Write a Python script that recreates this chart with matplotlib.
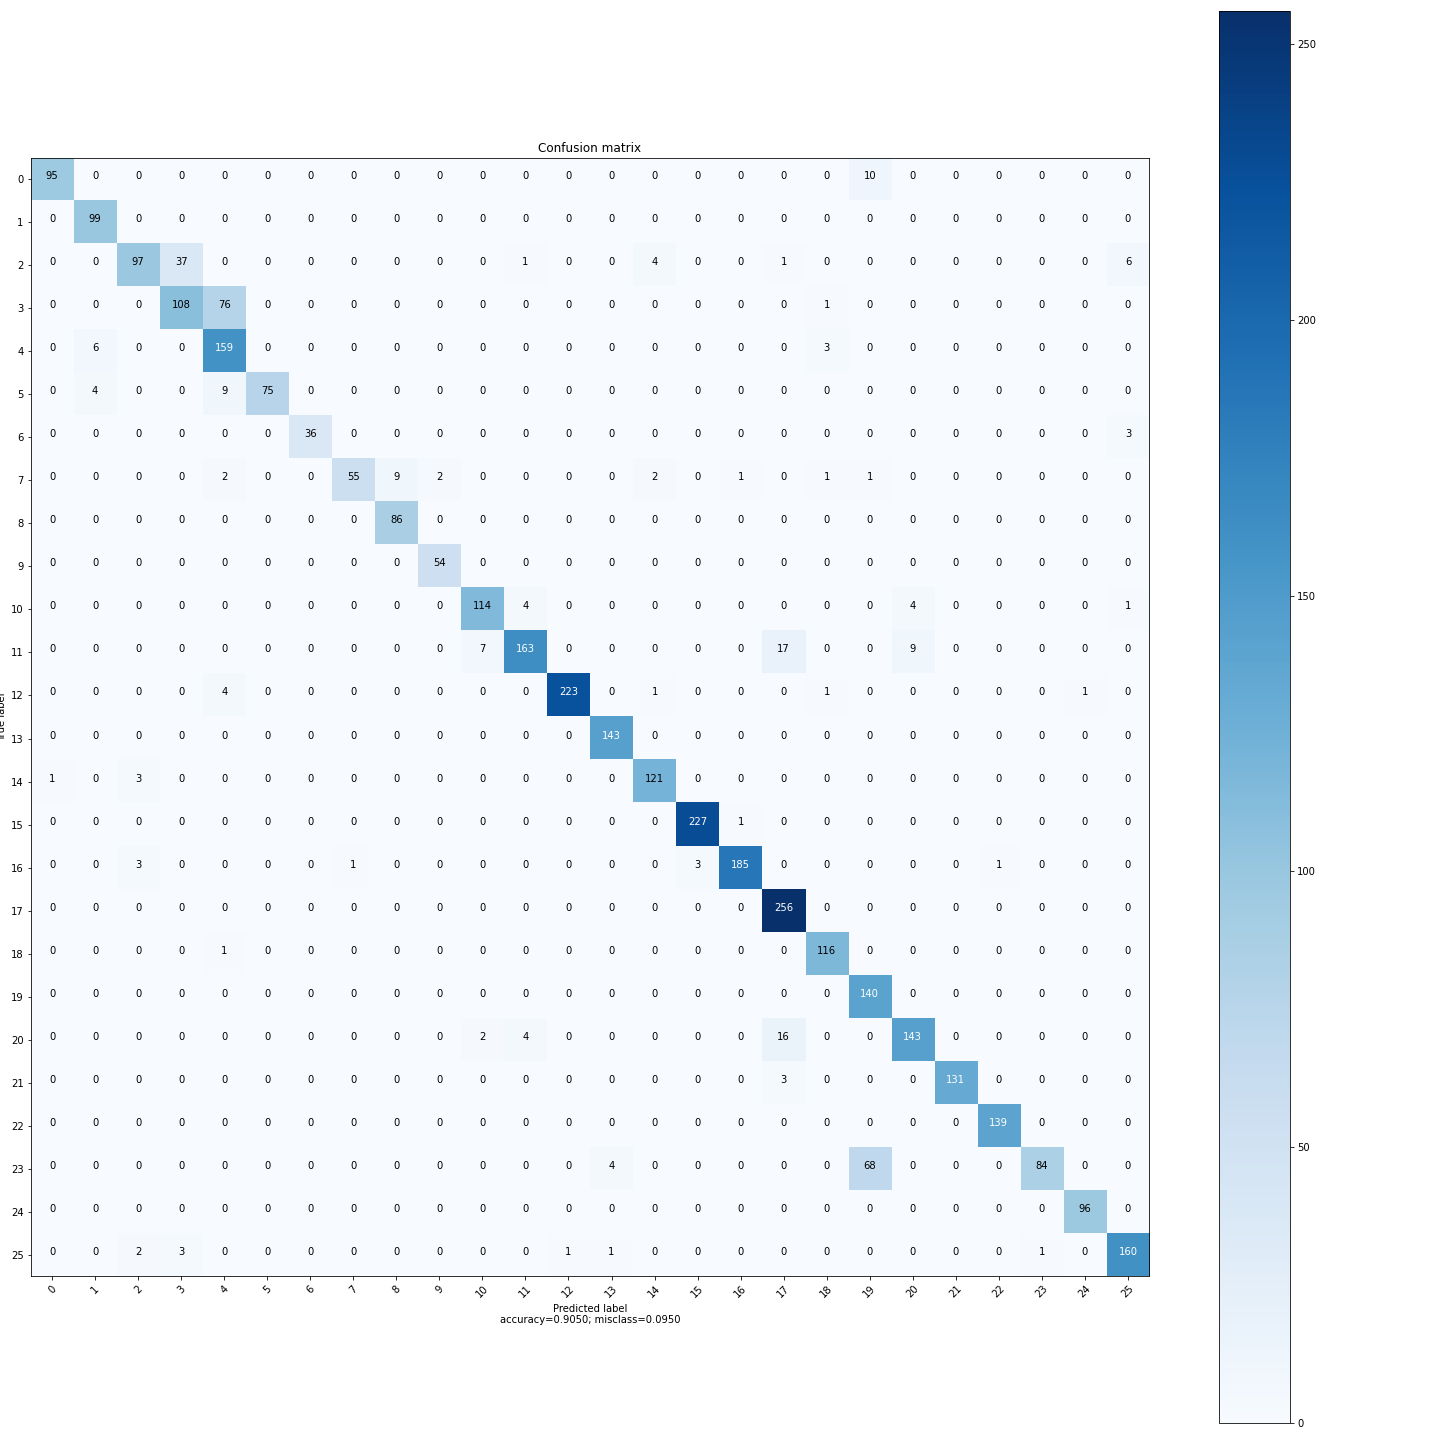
import itertools
import numpy as np
import matplotlib
matplotlib.use("Agg")
import matplotlib.pyplot as plt

n_classes = 26
class_names = [str(i) for i in range(n_classes)]

# 対角成分
diag_values = [95, 99, 97, 108, 159, 75, 36, 55, 86, 54, 114, 163, 223,
               143, 121, 227, 185, 256, 116, 140, 143, 131, 139, 84, 96, 160]

# 対角以外 (行, 列, 値)
off_diag = [
    (0, 19, 10),
    (2, 3, 37), (2, 11, 1), (2, 14, 4), (2, 17, 1), (2, 25, 6),
    (3, 4, 76), (3, 18, 1),
    (4, 1, 6), (4, 18, 3),
    (5, 1, 4), (5, 4, 9),
    (6, 25, 3),
    (7, 4, 2), (7, 8, 9), (7, 9, 2), (7, 14, 2), (7, 16, 1), (7, 18, 1), (7, 19, 1),
    (10, 11, 4), (10, 20, 4), (10, 25, 1),
    (11, 10, 7), (11, 17, 17), (11, 20, 9),
    (12, 4, 4), (12, 14, 1), (12, 18, 1), (12, 24, 1),
    (14, 0, 1), (14, 2, 3),
    (15, 16, 1),
    (16, 2, 3), (16, 7, 1), (16, 15, 3), (16, 22, 1),
    (18, 4, 1),
    (20, 10, 2), (20, 11, 4), (20, 17, 16),
    (21, 17, 3),
    (23, 13, 4), (23, 19, 68),
    (25, 2, 2), (25, 3, 3), (25, 12, 1), (25, 13, 1), (25, 23, 1),
]

cm = np.zeros((n_classes, n_classes), dtype=int)
for i, v in enumerate(diag_values):
    cm[i, i] = v
for r, c, v in off_diag:
    cm[r, c] = v

accuracy = np.trace(cm) / float(np.sum(cm))
misclass = 1 - accuracy

cmap = plt.get_cmap("Blues")

plt.figure(figsize=(20, 20), dpi=72)
plt.imshow(cm, interpolation="nearest", cmap=cmap)
plt.title("Confusion matrix")
plt.colorbar()

tick_marks = np.arange(n_classes)
plt.xticks(tick_marks, class_names, rotation=45)
plt.yticks(tick_marks, class_names)

thresh = cm.max() / 2
for i, j in itertools.product(range(cm.shape[0]), range(cm.shape[1])):
    plt.text(j, i, "{:,}".format(cm[i, j]),
             horizontalalignment="center",
             color="white" if cm[i, j] > thresh else "black")

plt.tight_layout()
plt.ylabel("True label")
plt.xlabel("Predicted label\naccuracy={:0.4f}; misclass={:0.4f}".format(accuracy, misclass))
plt.savefig("out.png", dpi=72)
